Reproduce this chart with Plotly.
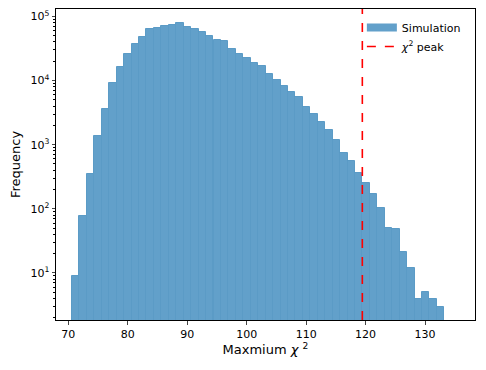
import plotly.graph_objects as go

# Histogram of the maximum chi^2 (50 bins)
bin_centers = [71.25, 72.50, 73.75, 75.00, 76.26, 77.51, 78.76, 80.01, 81.27, 82.52,
               83.77, 85.03, 86.28, 87.53, 88.78, 90.04, 91.29, 92.54, 93.79, 95.05,
               96.30, 97.55, 98.80, 100.06, 101.31, 102.56, 103.82, 105.07, 106.32, 107.57,
               108.83, 110.08, 111.33, 112.58, 113.84, 115.09, 116.34, 117.59, 118.85, 120.10,
               121.35, 122.60, 123.86, 125.11, 126.36, 127.62, 128.87, 130.12, 131.37, 132.63]
counts = [9, 77, 349, 1380, 3560, 9200, 16300, 26000, 37200, 48300,
          63700, 66700, 70900, 73500, 77800, 67500, 62800, 56400, 50100, 43400,
          40900, 31500, 26300, 22200, 18800, 16900, 12700, 10300, 8270, 6670,
          5500, 3900, 3030, 2260, 1710, 1200, 745, 550, 358, 250,
          173, 102, 51, 49, 21, 12, 4, 5, 4, 3]
bin_width = 1.2526
chi2_peak = 119.45

x_ticks = [70, 80, 90, 100, 110, 120, 130]
y_ticks = [10, 100, 1000, 10000, 100000]
y_labels = ["10<sup>1</sup>", "10<sup>2</sup>", "10<sup>3</sup>", "10<sup>4</sup>", "10<sup>5</sup>"]
y_minor = [m * 10 ** k for k in range(0, 5) for m in range(2, 10)] + [2e5]

bar_color = "rgba(31,119,180,0.7)"

fig = go.Figure()
fig.add_trace(go.Bar(x=bin_centers, y=counts, width=bin_width,
                     marker=dict(color=bar_color, line=dict(width=1, color="#5b9bc6")),
                     showlegend=False))
# legend entries
fig.add_trace(go.Scatter(x=[None], y=[None], mode="lines", name="Simulation",
                         line=dict(color=bar_color, width=8)))
fig.add_trace(go.Scatter(x=[None], y=[None], mode="lines", name="<i>χ</i><sup>2</sup> peak",
                         line=dict(color="red", width=1.6, dash="dash")))

fig.add_shape(type="line", xref="x", yref="paper", x0=chi2_peak, x1=chi2_peak, y0=0, y1=1,
              line=dict(color="red", width=1.6, dash="dash"))

# the page body adds an 8px margin, so the figure is 8px smaller and sits at (8, 8)
fig.update_layout(
    width=478, height=362,
    margin=dict(l=48, r=11, t=1, b=50),
    paper_bgcolor="white", plot_bgcolor="white",
    font=dict(family="DejaVu Sans", size=11, color="black"),
    bargap=0,
    legend=dict(x=0.73, y=0.987, xanchor="left", yanchor="top",
                bgcolor="rgba(0,0,0,0)", font=dict(size=11), tracegroupgap=0),
)
fig.update_xaxes(range=[67.93, 138.4], tickvals=x_ticks, ticks="outside", ticklen=3.5,
                 showline=True, linecolor="black", linewidth=1, mirror=True,
                 showgrid=False, zeroline=False, automargin=False,
                 title=dict(text="Maxmium <i>χ</i> <sup>2</sup>", font=dict(size=13), standoff=4))
fig.update_yaxes(type="log", range=[0.267, 5.115], tickvals=y_ticks, ticktext=y_labels,
                 ticks="outside", ticklen=3.5, ticklabeloverflow="allow",
                 minor=dict(ticks="outside", ticklen=2, tickcolor="black", tickvals=y_minor),
                 showline=True, linecolor="black", linewidth=1, mirror=True,
                 showgrid=False, zeroline=False, automargin=False,
                 title=dict(text="Frequency", font=dict(size=13)))

fig.write_html("out.html")
